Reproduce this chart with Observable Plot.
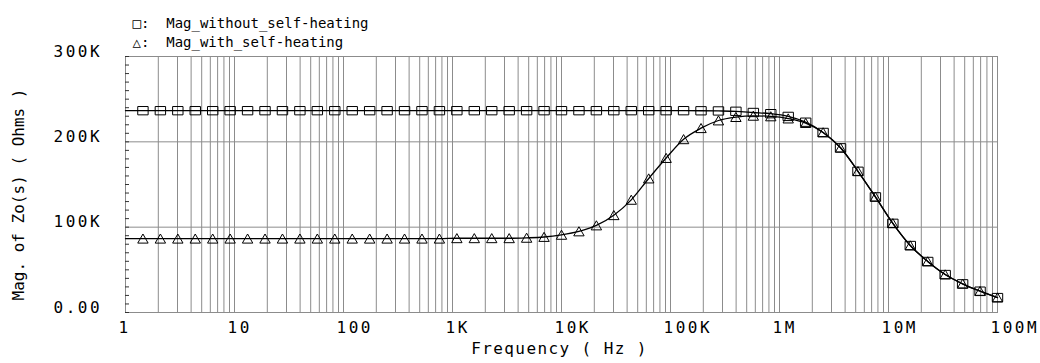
<!DOCTYPE html>
<html>
<head>
<meta charset="utf-8">
<script src="https://cdn.jsdelivr.net/npm/d3@7"></script>
<script src="https://cdn.jsdelivr.net/npm/@observablehq/plot@0.6"></script>
<style>
  body { margin: 0; background: #fff; }
  svg { display: block; }
  g[aria-label="x-axis tick label"] text { letter-spacing: 2.5px; }
  g[aria-label="y-axis tick label"] text { letter-spacing: 2.5px; }
  .xtitle text { letter-spacing: 1.4px; }
  .legend text { white-space: pre; }
</style>
</head>
<body>
<div id="chart"></div>
<script>
// Frequencies (Hz) of the sampled points
const freq = [1, 1.4454, 2.0893, 3.02, 4.3652, 6.3096, 9.1201, 13.183, 19.055, 27.542,
  39.811, 57.544, 83.176, 120.23, 173.78, 251.19, 363.08, 524.81, 758.58, 1096.5,
  1584.9, 2290.9, 3311.3, 4786.3, 6918.3, 10000, 14454, 20893, 30200, 43652,
  63096, 91201, 131830, 190550, 275420, 398110, 575440, 831760, 1202300, 1737800,
  2511900, 3630800, 5248100, 7585800, 10965000, 15849000, 22909000, 33113000, 47863000, 69183000,
  100000000];
// Magnitude without self-heating (kOhm)
const magWithout = [236.5, 236.5, 236.5, 236.5, 236.5, 236.5, 236.5, 236.5, 236.5, 236.5,
  236.5, 236.5, 236.5, 236.5, 236.5, 236.5, 236.5, 236.5, 236.5, 236.5,
  236.5, 236.5, 236.5, 236.5, 236.5, 236.5, 236.5, 236.5, 236.5, 236.5,
  236.5, 236.5, 236.5, 236.4, 236.2, 235.8, 234.4, 233.0, 229.8, 223.0,
  211.0, 193.0, 165.5, 135.5, 104.5, 78.5, 59.8, 44.5, 33.6, 25.0,
  17.5];
// Magnitude with self-heating (kOhm)
const magWith = [86.5, 86.5, 86.5, 86.5, 86.5, 86.5, 86.5, 86.5, 86.5, 86.5,
  86.5, 86.5, 86.5, 86.5, 86.5, 86.5, 86.5, 86.5, 86.5, 87.0,
  87.0, 87.0, 87.0, 87.5, 88.5, 91.0, 95.0, 102.0, 114.0, 132.0,
  157.0, 181.0, 203.0, 216.0, 225.0, 229.0, 230.5, 229.8, 227.3, 222.0,
  211.0, 193.0, 165.5, 135.5, 104.5, 78.5, 59.8, 44.5, 33.6, 25.0,
  17.5];

const seriesNames = ["Mag_without_self-heating", "Mag_with_self-heating"];
const legendSymbols = ["\u25A1", "\u25B3"];
const xTicks = [1, 10, 100, 1e3, 1e4, 1e5, 1e6, 1e7, 1e8];
const xTickLabels = ["1", "10", "100", "1K", "10K", "100K", "1M", "10M", "100M"];
const yTicks = [0, 100000, 200000, 300000];
const yTickLabels = ["0.00", "100K", "200K", "300K"];
const xTitle = "Frequency ( Hz )";
const yTitle = "Mag. of Zo(s) ( Ohms )";

// grid / minor ticks
const gridFreqs = [];
for (let e = 0; e < 8; e++) for (let m = 1; m < 10; m++) gridFreqs.push(m * Math.pow(10, e));
gridFreqs.push(1e8);
const yMinor = d3.range(0, 300001, 10000);

const rows = [];
freq.forEach((f, i) => {
  rows.push({f, v: magWithout[i] * 1000, s: seriesNames[0], i});
  rows.push({f, v: magWith[i] * 1000, s: seriesNames[1], i});
});

const rectSym = {draw(ctx, size) { const r = Math.sqrt(size / Math.PI); ctx.rect(-r, -0.8 * r, 2 * r, 1.6 * r); }};
const triSym = {draw(ctx, size) { const r = Math.sqrt(size / Math.PI); ctx.moveTo(0, -0.9 * r); ctx.lineTo(r, 0.85 * r); ctx.lineTo(-r, 0.85 * r); ctx.closePath(); }};

const grid = "#8c8c8c";
const mono = "DejaVu Sans Mono";

const chart = Plot.plot({
  width: 1040,
  height: 363,
  marginLeft: 125,
  marginRight: 43,
  marginTop: 56,
  marginBottom: 51,
  style: {fontFamily: mono, fontSize: "16px", background: "#fff", color: "#000"},
  x: {type: "log", domain: [1, 1e8]},
  y: {domain: [0, 300000]},
  marks: [
    Plot.ruleX(gridFreqs, {stroke: grid, strokeWidth: 1}),
    Plot.ruleY([100000, 200000], {stroke: grid, strokeWidth: 1}),
    Plot.frame({stroke: grid, strokeWidth: 1}),
    Plot.axisY(yMinor, {tickSize: -4, tickFormat: () => "", stroke: "#333", label: null}),
    Plot.axisY(yTicks, {tickSize: 0, tickPadding: 0, textAnchor: "start", dx: -72, dy: -5,
      tickFormat: d => yTickLabels[yTicks.indexOf(d)], label: null, fontSize: 16, fill: "#000"}),
    Plot.axisX(xTicks, {tickSize: 0, tickPadding: 9, textAnchor: "start", dx: -7,
      tickFormat: d => xTickLabels[xTicks.indexOf(d)], label: null, fontSize: 16, fill: "#000"}),
    Plot.line(rows, {x: "f", y: "v", z: "s", stroke: "#000", strokeWidth: 1.3, curve: "monotone-x"}),
    Plot.dot(rows.filter(d => d.s === seriesNames[0] && d.i > 0), {x: "f", y: "v", symbol: rectSym, r: 5.2, stroke: "#000", strokeWidth: 1, fill: "none"}),
    Plot.dot(rows.filter(d => d.s === seriesNames[1] && d.i > 0), {x: "f", y: "v", symbol: triSym, r: 5.2, stroke: "#000", strokeWidth: 1, fill: "none"}),
    Plot.text([legendSymbols[0] + ":  " + seriesNames[0]], {frameAnchor: "top-left", dx: 7, dy: -33, textAnchor: "start", lineAnchor: "middle", fontSize: 14, fill: "#000", className: "legend"}),
    Plot.text([legendSymbols[1] + ":  " + seriesNames[1]], {frameAnchor: "top-left", dx: 7, dy: -14, textAnchor: "start", lineAnchor: "middle", fontSize: 14, fill: "#000", className: "legend"}),
    Plot.text([xTitle], {frameAnchor: "bottom", dx: -2, dy: 36, textAnchor: "middle", lineAnchor: "middle", fontSize: 16, fill: "#000", className: "xtitle"}),
    Plot.text([yTitle], {frameAnchor: "left", rotate: -90, dx: -107, dy: 10, textAnchor: "middle", lineAnchor: "middle", fontSize: 16, fill: "#000"})
  ]
});
document.getElementById("chart").appendChild(chart);
</script>
</body>
</html>
